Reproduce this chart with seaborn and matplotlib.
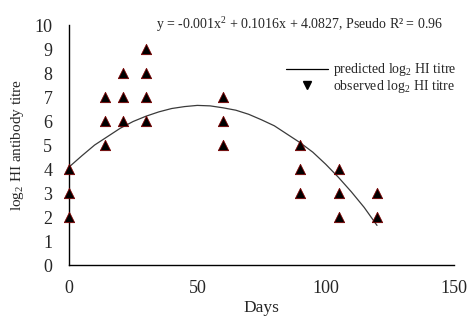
import matplotlib
matplotlib.use("Agg")
import matplotlib.pyplot as plt
from matplotlib.lines import Line2D
import seaborn as sns
import pandas as pd

# observed data
obs_days = [0, 0, 0, 14, 14, 14, 21, 21, 21, 30, 30, 30, 30, 60, 60, 60,
            90, 90, 90, 105, 105, 105, 120, 120]
obs_titre = [2, 3, 4, 5, 6, 7, 6, 7, 8, 6, 7, 8, 9, 5, 6, 7,
             3, 4, 5, 2, 3, 4, 2, 3]

# predicted curve
pred_days = [0, 5, 10, 15, 20, 25, 30, 35, 40, 45, 50, 55, 60, 65, 70, 75,
             80, 85, 90, 95, 100, 105, 110, 115, 120]
pred_titre = [4.08, 4.55, 5.0, 5.35, 5.7, 5.98, 6.2, 6.38, 6.52, 6.6, 6.65,
              6.63, 6.55, 6.45, 6.28, 6.05, 5.8, 5.45, 5.1, 4.7, 4.2, 3.65,
              3.05, 2.4, 1.65]

x_ticks = [0, 50, 100, 150]
y_ticks = list(range(0, 11))

sns.set_style("white")
plt.rcParams['font.family'] = ['Liberation Serif', 'DejaVu Serif']
plt.rcParams['mathtext.fontset'] = 'custom'
plt.rcParams['mathtext.rm'] = 'Liberation Serif'
plt.rcParams['mathtext.it'] = 'Liberation Serif'

obs = pd.DataFrame({"Days": obs_days, "Titre": obs_titre})
pred = pd.DataFrame({"Days": pred_days, "Titre": pred_titre})

fig = plt.figure(figsize=(4.73, 3.30), dpi=100)
ax = fig.add_axes([69/473, 1-265/330, (454-69)/473, (265-25)/330])

sns.lineplot(data=pred, x="Days", y="Titre", ax=ax, color="#3a3a3a", lw=0.9)
sns.scatterplot(data=obs, x="Days", y="Titre", ax=ax, marker="^", s=55,
                color="black", edgecolor="#7a0000", linewidth=0.6, zorder=3,
                clip_on=False)

ax.set_xlim(0, 150)
ax.set_ylim(0, 10)
ax.set_xticks(x_ticks)
ax.set_yticks(y_ticks)
ax.tick_params(axis='both', length=0, labelsize=13)
ax.tick_params(axis='x', pad=11)
ax.tick_params(axis='y', pad=12)
for s in ['top', 'right']:
    ax.spines[s].set_visible(False)
for s in ['left', 'bottom']:
    ax.spines[s].set_color('black')
    ax.spines[s].set_linewidth(1.0)

ax.set_xlabel("Days", fontsize=12.5, labelpad=2)
ax.set_ylabel("log$_2$ HI antibody titre", fontsize=11, labelpad=6)

ax.text(0.60, 1.0, "y = -0.001x$^2$ + 0.1016x + 4.0827, Pseudo R\u00b2 = 0.96",
        transform=ax.transAxes, ha='center', va='center', fontsize=10)

handles = [Line2D([0], [0], color='black', lw=0.9),
           Line2D([0], [0], marker='v', color='black', ls='none', markersize=6)]
labels = ["predicted log$_2$ HI titre", "observed log$_2$ HI titre"]
ax.legend(handles, labels, loc='upper right', bbox_to_anchor=(1.04, 0.90),
          frameon=False, fontsize=10, handlelength=3.0, handletextpad=0.4,
          labelspacing=-0.05, markerfirst=True)

fig.savefig("out.png", dpi=100)
